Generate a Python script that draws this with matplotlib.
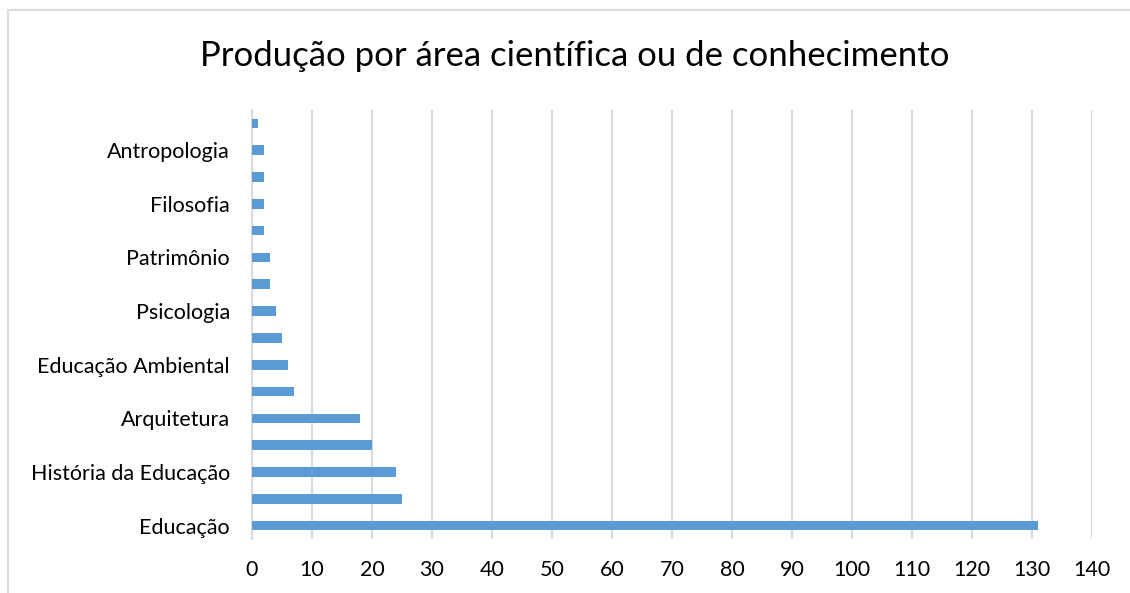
import matplotlib
matplotlib.use("Agg")
import matplotlib.pyplot as plt
from matplotlib.patches import Rectangle

plt.rcParams['font.family'] = ['Lato', 'DejaVu Sans']

title = "Produção por área científica ou de conhecimento"
# bottom to top; only every other category label is visible in the reference
labels = ["Educação", "", "História da Educação", "", "Arquitetura", "",
          "Educação Ambiental", "", "Psicologia", "", "Patrimônio", "",
          "Filosofia", "", "Antropologia", ""]
values = [131, 25, 24, 20, 18, 7, 6, 5, 4, 3, 3, 2, 2, 2, 2, 1]
xticks = list(range(0, 141, 10))

fig = plt.figure(figsize=(11.3, 5.93), dpi=100)
fig.patches.append(Rectangle((8/1130, -0.1), 1.2, 1 - 10/593 + 0.1,
                             transform=fig.transFigure, fill=False,
                             edgecolor='#d9d9d9', linewidth=1.5))
ax = fig.add_axes([252/1130, 1 - 539/593, 840/1130, 429/593])

pos = list(range(len(values)))
ax.barh(pos, values, height=0.36, color='#5b9bd5', zorder=3)
ax.set_ylim(-0.5, len(values) - 0.5)
ax.set_xlim(0, 140)
ax.set_xticks(xticks)
ax.set_xticklabels([str(t) for t in xticks])
ax.set_yticks(pos)
ax.set_yticklabels(labels)
ax.tick_params(axis='both', length=0, labelsize=15.5, colors='#000000')
ax.tick_params(axis='x', pad=15)
ax.tick_params(axis='y', pad=16)
ax.xaxis.grid(True, color='#d9d9d9', linewidth=1.5, zorder=0)
for s in ['top', 'right', 'bottom']:
    ax.spines[s].set_visible(False)
ax.spines['left'].set_color('#d9d9d9')
ax.spines['left'].set_linewidth(1.5)

fig.text(575/1130, 1 - 56/593, title, ha='center', va='center', fontsize=25)

fig.savefig("out.png", dpi=100, facecolor='white')
